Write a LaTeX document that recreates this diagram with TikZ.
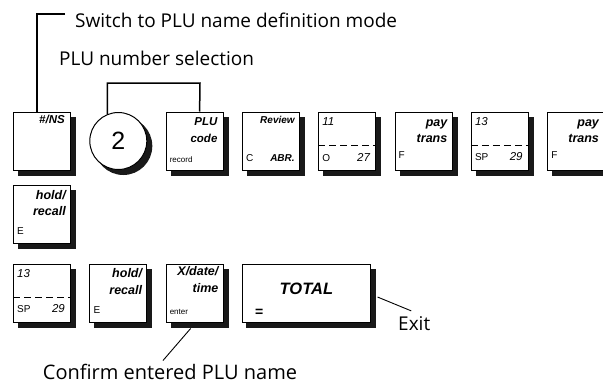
\documentclass[tikz,border=0pt]{standalone}
\usepackage{fontspec}
\setmainfont{Open Sans}
\newfontfamily\keyfont{Liberation Sans}
\definecolor{keyshade}{RGB}{25,25,25}

\tikzset{
  keycap/.style={draw,line width=1pt,fill=white,inner sep=0pt,
    minimum width=57pt,minimum height=58pt},
  keyround/.style={keycap,circle,minimum size=57pt,
    font=\keyfont\fontsize{25}{25}\selectfont},
  keyshadow/.style={fill=keyshade,draw=none,inner sep=0pt,
    minimum width=58pt,minimum height=59pt},
  keyname/.style={inner sep=0pt,anchor=base east,font=\keyfont\bfseries\itshape\fontsize{12.5}{12.5}\selectfont},
  keysmall/.style={inner sep=0pt,anchor=base west,font=\keyfont\fontsize{8}{8}\selectfont},
  keyletter/.style={inner sep=0pt,anchor=base west,font=\keyfont\fontsize{10}{10}\selectfont},
  keynum/.style={inner sep=0pt,font=\keyfont\itshape\fontsize{11.5}{11.5}\selectfont},
  note/.style={inner sep=0pt,font=\fontsize{19}{19}\selectfont},
  lead/.style={line width=1.5pt},
  pointer/.style={line width=0.9pt},
  split/.style={line width=1pt,dash pattern=on 7pt off 4pt}
}

\begin{document}
\begin{tikzpicture}[x=1pt,y=-1pt]
\useasboundingbox (0,0) rectangle (603,381);

% shadows under the keys
\foreach \n/\x/\y in {ns/42/141,plu/194.6/141,review/270.9/141,eleven/347.2/141,
    payA/423.5/141,thirteenA/499.8/141,payB/576.1/141,holdA/42/214,
    thirteenB/42/293,holdB/118.3/293,xdate/194.6/293}
  \node[keyshadow] (\n-shade) at (\x+5,\y+5) {};
\node[keyshadow,circle,minimum size=58pt] (two-shade) at (123.3,146) {};
\node[keyshadow,minimum width=130pt] (total-shade) at (311.4,298) {};

% first row of keys
\node[keycap] (ns) at (42,141) {};
\node[keyround] (two) at (118.3,141) {2};
\node[keycap] (plu) at (194.6,141) {};
\node[keycap] (review) at (270.9,141) {};
\node[keycap] (eleven) at (347.2,141) {};
\node[keycap] (payA) at (423.5,141) {};
\node[keycap] (thirteenA) at (499.8,141) {};
\node[keycap] (payB) at (576.1,141) {};
% second row
\node[keycap] (holdA) at (42,214) {};
% third row
\node[keycap] (thirteenB) at (42,293) {};
\node[keycap] (holdB) at (118.3,293) {};
\node[keycap] (xdate) at (194.6,293) {};
\node[keycap,minimum width=128pt] (total) at (306.4,293) {};

% key legends
\node[keyname,font=\keyfont\bfseries\itshape\fontsize{11.5}{11.5}\selectfont] (nsT) at ([shift={(-6,12)}]ns.north east) {\#/NS};
\node[keyname,font=\keyfont\bfseries\itshape\fontsize{11.5}{11.5}\selectfont] (pluT) at ([shift={(-6,14)}]plu.north east) {PLU};
\node[keyname,font=\keyfont\bfseries\itshape\fontsize{11.5}{11.5}\selectfont] (pluU) at ([shift={(-6,31)}]plu.north east) {code};
\node[keysmall] (pluS) at ([shift={(4,-8)}]plu.south west) {record};
\node[keyname,font=\keyfont\bfseries\itshape\fontsize{10}{10}\selectfont] (reviewT) at ([shift={(-5,12)}]review.north east) {Review};
\node[keyletter] (reviewS) at ([shift={(4,-9)}]review.south west) {C};
\node[keyname,font=\keyfont\bfseries\itshape\fontsize{10}{10}\selectfont] (reviewR) at ([shift={(-5,-9)}]review.south east) {ABR.};
\node[keynum,anchor=base west] (elevenT) at ([shift={(4,14)}]eleven.north west) {11};
\draw[split] ([yshift=-4.5pt]eleven.west) -- ([yshift=-4.5pt]eleven.east);
\node[keyletter] (elevenS) at ([shift={(4,-9)}]eleven.south west) {O};
\node[keynum,anchor=base east] (elevenR) at ([shift={(-6,-9)}]eleven.south east) {27};
\node[keyname] (payAT) at ([shift={(-5,15)}]payA.north east) {pay};
\node[keyname] (payAU) at ([shift={(-5,31)}]payA.north east) {trans};
\node[keyletter] (payAS) at ([shift={(4,-12)}]payA.south west) {F};
\node[keynum,anchor=base west] (thirteenAT) at ([shift={(4,14)}]thirteenA.north west) {13};
\draw[split] ([yshift=-4.5pt]thirteenA.west) -- ([yshift=-4.5pt]thirteenA.east);
\node[keyletter] (thirteenAS) at ([shift={(4,-10)}]thirteenA.south west) {SP};
\node[keynum,anchor=base east] (thirteenAR) at ([shift={(-6,-10)}]thirteenA.south east) {29};
\node[keyname] (payBT) at ([shift={(-6,15)}]payB.north east) {pay};
\node[keyname] (payBU) at ([shift={(-6,31)}]payB.north east) {trans};
\node[keyletter] (payBS) at ([shift={(4,-12)}]payB.south west) {F};
\node[keyname] (holdAT) at ([shift={(-5,15)}]holdA.north east) {hold/};
\node[keyname] (holdAU) at ([shift={(-5,31)}]holdA.north east) {recall};
\node[keyletter] (holdAS) at ([shift={(4,-9)}]holdA.south west) {E};
\node[keynum,anchor=base west] (thirteenBT) at ([shift={(4,14)}]thirteenB.north west) {13};
\draw[split] ([yshift=-4.5pt]thirteenB.west) -- ([yshift=-4.5pt]thirteenB.east);
\node[keyletter] (thirteenBS) at ([shift={(4,-10)}]thirteenB.south west) {SP};
\node[keynum,anchor=base east] (thirteenBR) at ([shift={(-6,-10)}]thirteenB.south east) {29};
\node[keyname] (holdBT) at ([shift={(-5,14)}]holdB.north east) {hold/};
\node[keyname] (holdBU) at ([shift={(-5,31)}]holdB.north east) {recall};
\node[keyletter] (holdBS) at ([shift={(4,-9)}]holdB.south west) {E};
\node[keyname] (xdateT) at ([shift={(-5,12)}]xdate.north east) {X/date/};
\node[keyname] (xdateU) at ([shift={(-5,29)}]xdate.north east) {time};
\node[keysmall] (xdateS) at ([shift={(4,-8)}]xdate.south west) {enter};
\node[inner sep=0pt,font=\keyfont\bfseries\itshape\fontsize{16.5}{16.5}\selectfont] (totalT) at ([yshift=4pt]total.center) {TOTAL};
\node[inner sep=0pt,anchor=base west,font=\keyfont\bfseries\fontsize{14}{14}\selectfont] (totalS) at ([shift={(13,-6)}]total.south west) {=};

% notes
\node[note,anchor=base west] (switch) at (75,27) {Switch to PLU name definition mode};
\node[note,anchor=base west] (select) at (59,65) {PLU number selection};
\node[note,anchor=base,font=\fontsize{20}{20}\selectfont] (confirm) at (170,379) {Confirm entered PLU name};
\node[note,anchor=base west] (exit) at (398,330) {Exit};
\coordinate (pluBend) at (200,83);

\draw[lead] ([shift={(-10pt,6pt)}]switch.west) -| ([xshift=-5pt]ns.north);
\draw[lead] ([shift={(-11pt,-2pt)}]two.north) |- (pluBend) -- ([xshift=5pt]plu.north);
\draw[pointer] ([shift={(-4pt,-6pt)}]xdate.south) -- ([shift={(-7pt,3pt)}]confirm.north);
\draw[pointer] ([shift={(6.6pt,-4pt)}]total.east) -- ([shift={(-3pt,5pt)}]exit.north);
\end{tikzpicture}
\end{document}
